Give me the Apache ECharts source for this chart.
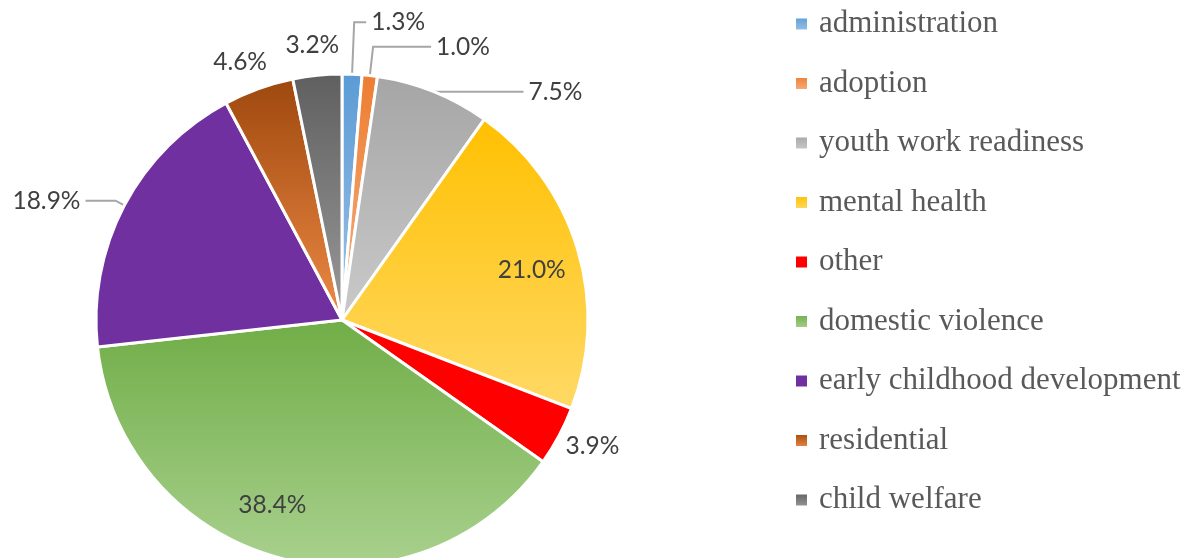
<!DOCTYPE html>
<html>
<head>
<meta charset="utf-8">
<script src="https://cdn.jsdelivr.net/npm/echarts@6/dist/echarts.min.js"></script>
<style>html,body{margin:0;padding:0;background:#fff}#c{width:1186px;height:558px}</style>
</head>
<body>
<div id="c"></div>
<script>
const categories = ['administration','adoption','youth work readiness','mental health','other','domestic violence','early childhood development','residential','child welfare'];
const values = [1.3, 1.0, 7.5, 21.0, 3.9, 38.4, 18.9, 4.6, 3.2];
const topColors = ['#5B9BD5','#ED7D31','#A5A5A5','#FFC000','#FF0000','#70AD47','#7030A0','#9E480E','#5F5F5F'];
const bottomColors = ['#9DC3E6','#F4B183','#CACACA','#FFD966','#FF0000','#A9D18E','#7030A0','#EE8A45','#9A9A9A'];
// label placement tuning (length, length2, show line)
const labelTune = [
  {len: 52, len2: 12, line: true},
  {len: 29, len2: 58, line: true},
  {len: 0, len2: 90, line: true},
  {len: -74, len2: -14, line: false},
  {len: 21, len2: -17, line: false},
  {len: -55, len2: -17, line: false},
  {len: 10, len2: 30, line: true},
  {len: 28, len2: -23, line: false},
  {len: 30, len2: -30, line: false}
];

const chart = echarts.init(document.getElementById('c'), null, {renderer: 'canvas'});
const data = categories.map((name, i) => ({
  name: name,
  value: values[i],
  itemStyle: {
    color: new echarts.graphic.LinearGradient(0, 0, 0, 1, [
      {offset: 0, color: topColors[i]},
      {offset: 1, color: bottomColors[i]}
    ])
  },
  labelLine: {show: labelTune[i].line, length: labelTune[i].len, length2: labelTune[i].len2}
}));

chart.setOption({
  animation: false,
  backgroundColor: '#ffffff',
  legend: {
    orient: 'vertical',
    left: 794,
    top: 8,
    padding: 0,
    itemWidth: 13,
    itemHeight: 13,
    itemGap: 27.5,
    icon: 'rect',
    textStyle: {
      fontFamily: 'Liberation Serif',
      fontSize: 31,
      lineHeight: 32,
      color: '#595959',
      padding: [0, 0, 0, 6]
    },
    data: categories
  },
  series: [{
    type: 'pie',
    center: [342, 320],
    radius: [0, 246],
    startAngle: 90,
    clockwise: true,
    avoidLabelOverlap: false,
    itemStyle: {borderColor: '#ffffff', borderWidth: 3},
    label: {
      show: true,
      position: 'outside',
      formatter: p => p.value.toFixed(1) + '%',
      fontFamily: 'Lato',
      fontSize: 24.5,
      color: '#404040',
      distanceToLabelLine: 5
    },
    labelLine: {
      show: true,
      lineStyle: {color: '#A6A6A6', width: 2},
      smooth: false
    },
    emphasis: {disabled: true},
    data: data
  }]
});
</script>
</body>
</html>
